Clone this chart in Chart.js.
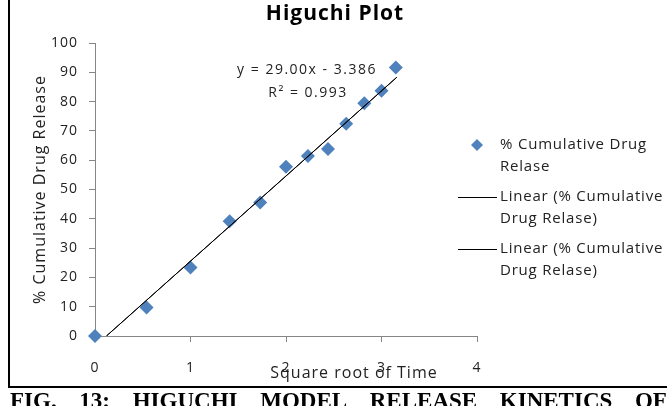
<!DOCTYPE html>
<html>
<head>
<meta charset="utf-8">
<script src="https://cdn.jsdelivr.net/npm/chart.js@4"></script>
<style>
    html, body { margin: 0; padding: 0; background: #fff; }
    body { width: 667px; height: 406px; position: relative; overflow: hidden; }
    #myChart { position: absolute; left: 0; top: 0; }
    .frame {
        position: absolute; left: 8px; top: -4px; width: 700px; height: 390px;
        border-left: 2px solid #000; border-bottom: 2px solid #000;
        pointer-events: none;
    }
    .caption {
        position: absolute; left: 10px; right: 0; top: 389px;
        display: flex; justify-content: space-between;
        font: bold 23px/23px "Liberation Serif", "Times New Roman", serif;
        color: #000; white-space: nowrap;
    }
</style>
</head>
<body>
<canvas id="myChart" width="667" height="386"></canvas>
<div class="frame"></div>
<div class="caption"><span>FIG.</span><span>13:</span><span>HIGUCHI</span><span>MODEL</span><span>RELEASE</span><span>KINETICS</span><span>OF</span></div>
<script>
// values
const sqrtTime = [0, 0.54, 1.0, 1.41, 1.73, 2.0, 2.23, 2.44, 2.63, 2.82, 3.0, 3.15];
const drugRelease = [0, 9.7, 23.4, 39.2, 45.6, 57.8, 61.4, 63.8, 72.4, 79.4, 83.7, 91.6];

// trend line end points
const trendX = [0.12, 3.16];
const trendY = [0, 88.3];

const xTicks = [0, 1, 2, 3, 4];
const yTicks = [0, 10, 20, 30, 40, 50, 60, 70, 80, 90, 100];

const chartTitle = 'Higuchi Plot';
const xTitle = 'Square root of Time';
const yTitle = '% Cumulative Drug Release';
const seriesName = '% Cumulative Drug Relase';
const trendName = 'Linear (% Cumulative Drug Relase)';
const eqText = 'y = 29.00x - 3.386';
const r2Text = 'R² = 0.993';

const FONT = '"Open Sans", "DejaVu Sans", sans-serif';
const markerColor = '#4F81BD';

const points = sqrtTime.map((x, i) => ({ x: x, y: drugRelease[i] }));
const trend = trendX.map((x, i) => ({ x: x, y: trendY[i] }));

function wrapText(ctx, text, maxWidth) {
    const words = text.split(' ');
    const lines = [];
    let line = '';
    words.forEach(w => {
        const test = line ? line + ' ' + w : w;
        if (line && ctx.measureText(test).width > maxWidth) {
            lines.push(line);
            line = w;
        } else {
            line = test;
        }
    });
    if (line) lines.push(line);
    return lines;
}

const extras = {
    id: 'extras',
    beforeDraw(chart) {
        // the source picture has loosely spaced text
        chart.ctx.letterSpacing = '1px';
    },
    afterDraw(chart) {
        const ctx = chart.ctx;
        ctx.save();

        // title
        ctx.fillStyle = '#000';
        ctx.font = 'bold 21px ' + FONT;
        ctx.textAlign = 'center';
        ctx.textBaseline = 'middle';
        ctx.fillText(chartTitle, 335, 14);

        // x axis title, sits over the tick labels like the original
        ctx.fillStyle = '#222';
        ctx.font = '16px ' + FONT;
        ctx.fillText(xTitle, 354, 373);

        // trend equation
        ctx.font = '14px ' + FONT;
        ctx.letterSpacing = '1.5px';
        ctx.fillText(eqText, 307, 70);
        ctx.fillText(r2Text, 308, 93);

        // legend
        ctx.font = '15px ' + FONT;
        ctx.letterSpacing = '0.8px';
        ctx.textAlign = 'left';
        let y = 145;
        chart.data.datasets.forEach(ds => {
            if (ds.showLine) {
                ctx.strokeStyle = ds.borderColor;
                ctx.lineWidth = 1;
                ctx.beginPath();
                ctx.moveTo(458, y + 0.5);
                ctx.lineTo(497, y + 0.5);
                ctx.stroke();
            } else {
                ctx.fillStyle = ds.backgroundColor;
                ctx.beginPath();
                ctx.moveTo(477, y - 6);
                ctx.lineTo(483, y);
                ctx.lineTo(477, y + 6);
                ctx.lineTo(471, y);
                ctx.closePath();
                ctx.fill();
            }
            ctx.fillStyle = '#222';
            const lines = wrapText(ctx, ds.label, 170);
            lines.forEach((l, i) => ctx.fillText(l, 500, y + i * 22));
            y += lines.length * 22 + 8;
        });
        ctx.restore();
    }
};

const ctx = document.getElementById('myChart').getContext('2d');
const chart = new Chart(ctx, {
    type: 'scatter',
    data: {
        datasets: [{
            label: seriesName,
            data: points,
            showLine: false,
            pointStyle: 'rectRot',
            pointRadius: 7,
            backgroundColor: markerColor,
            borderColor: markerColor,
            borderWidth: 0,
            clip: false,
            order: 2
        }, {
            label: trendName,
            data: trend,
            showLine: true,
            borderColor: '#000',
            borderWidth: 1,
            pointRadius: 0,
            order: 1
        }, {
            label: trendName,
            data: trend,
            showLine: true,
            borderColor: '#000',
            borderWidth: 1,
            pointRadius: 0,
            order: 1
        }]
    },
    options: {
        responsive: false,
        animation: false,
        layout: {
            padding: { left: 0, right: 190, top: 43, bottom: 0 }
        },
        plugins: {
            legend: { display: false },
            title: { display: false },
            tooltip: { enabled: false }
        },
        scales: {
            x: {
                type: 'linear',
                min: 0,
                max: 4,
                afterBuildTicks: scale => { scale.ticks = xTicks.map(v => ({ value: v })); },
                afterFit: scale => { scale.height = 50; },
                ticks: {
                    padding: 18,
                    color: '#222',
                    font: { family: FONT, size: 14 }
                },
                grid: {
                    drawOnChartArea: false,
                    drawTicks: true,
                    tickLength: 6,
                    color: '#868686'
                },
                border: { color: '#868686', width: 1 },
                title: { display: false }
            },
            y: {
                min: 0,
                max: 100,
                afterBuildTicks: scale => { scale.ticks = yTicks.map(v => ({ value: v })); },
                afterFit: scale => { scale.width = 95; },
                ticks: {
                    padding: 11,
                    color: '#222',
                    font: { family: FONT, size: 14 }
                },
                grid: {
                    drawOnChartArea: false,
                    drawTicks: true,
                    tickLength: 6,
                    color: '#868686'
                },
                border: { color: '#868686', width: 1 },
                title: {
                    display: true,
                    text: yTitle,
                    color: '#222',
                    font: { family: FONT, size: 16 },
                    padding: { top: 31, bottom: 0 }
                }
            }
        }
    },
    plugins: [extras]
});
</script>
</body>
</html>
